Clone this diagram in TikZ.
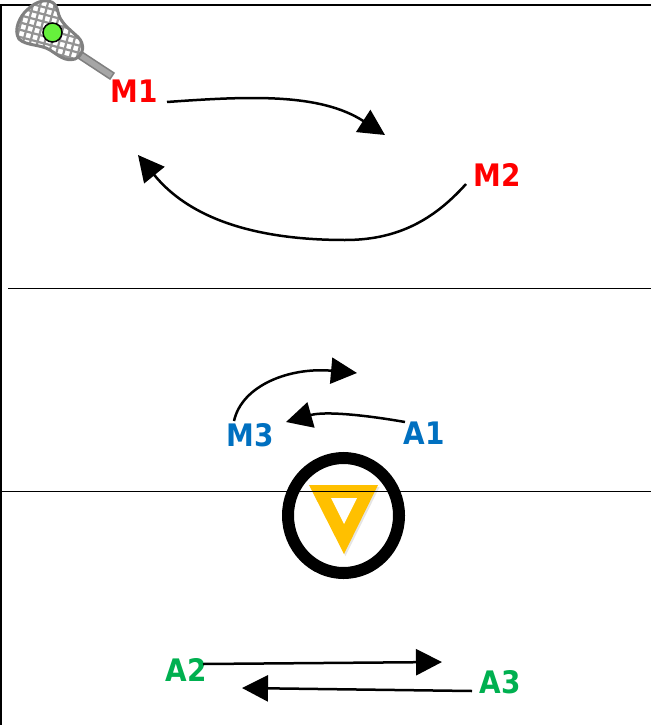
\documentclass[tikz,border=0pt]{standalone}
\usepackage{fontspec}
\setmainfont[FakeStretch=0.9]{DejaVu Sans}
\usetikzlibrary{arrows.meta,shadows}
\definecolor{mred}{HTML}{FF0000}
\definecolor{mblue}{HTML}{0070C0}
\definecolor{mgreen}{HTML}{00B050}
\definecolor{myellow}{HTML}{FFC000}
\definecolor{ballgreen}{HTML}{66F03C}
\definecolor{stickgray}{HTML}{A6A6A6}
\tikzset{
	player/.style={inner sep=0pt,font=\fontsize{31}{31}\selectfont\bfseries},
	run/.style={line width=2.5pt,-{Triangle[length=26pt,width=26pt]}},
	field/.style={line width=1pt},
	edge/.style={line width=2pt}
}
\begin{document}
\begin{tikzpicture}[x=1pt,y=-1pt]
\useasboundingbox (0,0) rectangle (651,725);
\fill[white] (0,0) rectangle (651,725);
% field
\draw[edge] (651,5) -- (1,5) -- (1,725);
\draw[field] (8,288) -- (651,288);
% goal
\path[fill=myellow,drop shadow={shadow xshift=1.5pt,shadow yshift=-2pt,opacity=.2}]
	(309,485) -- (378,485) -- (344,554) -- cycle;
\fill[white] (331,498) -- (357,498) -- (344,524) -- cycle;
\draw[field] (0,491) -- (651,491);
\draw[line width=12pt] (343.5,515.5) circle[x radius=55.5pt,y radius=57.5pt];
% stick
\draw[fill=stickgray,draw=gray,line width=1.5pt] (79,50) -- (114,73) -- (110,79) -- (75,56) -- cycle;
\begin{scope}
	\clip (43,1) .. controls (50,0) and (56,2) .. (58,12) .. controls (60,22) and (68,28) .. (78,37)
		.. controls (85,44) and (84,55) .. (75,59) .. controls (65,62) and (58,55) .. (50,50)
		.. controls (40,44) and (26,46) .. (19,39) .. controls (13,30) and (20,16) .. (27,10)
		.. controls (32,5) and (37,2) .. (43,1) -- cycle;
	\fill[white] (0,0) rectangle (100,70);
	\foreach \i in {-8,...,8}
		\draw[gray!85,line width=2.2pt,rotate around={-15:(48,30)}]
			(48+\i*7,-15) -- (48+\i*7,75) (-10,30+\i*7) -- (105,30+\i*7);
\end{scope}
\draw[gray,line width=3pt] (43,1) .. controls (50,0) and (56,2) .. (58,12) .. controls (60,22) and (68,28) .. (78,37)
	.. controls (85,44) and (84,55) .. (75,59) .. controls (65,62) and (58,55) .. (50,50)
	.. controls (40,44) and (26,46) .. (19,39) .. controls (13,30) and (20,16) .. (27,10)
	.. controls (32,5) and (37,2) .. (43,1) -- cycle;
\draw[fill=ballgreen,line width=1.5pt] (52.5,32.5) circle[radius=9.5pt];
% players
\path
	(134,91) node [player,text=mred] (M1) {M1}
	(497,175) node [player,text=mred] (M2) {M2}
	(250,435) node [player,text=mblue] (M3) {M3}
	(424,433) node [player,text=mblue] (A1) {A1}
	(186,670) node [player,text=mgreen] (A2) {A2}
	(500,682) node [player,text=mgreen] (A3) {A3};
\coordinate (endM1) at (385,135);
\coordinate (endM3) at (357,373);
\coordinate (endA2) at (442,662);
\coordinate (endA3) at (242,688);
% runs
\draw[run] ([shift={(33,11)}]M1.center) .. controls (250,96) and (320,93) .. (endM1);
\draw[run] ([shift={(-31,9)}]M2.center) .. controls (432,222) and (395,240) .. (345,240)
	.. controls (270,240) and (195,225) .. ([shift={(4,64)}]M1.center);
\draw[run] ([shift={(-16,-14)}]M3.center) .. controls (242,385) and (290,367) .. (endM3);
\draw[run] ([shift={(-19,-11)}]A1.center) .. controls (365,415) and (325,411) .. ([shift={(36,-13)}]M3.center);
\draw[run] ([shift={(17,-6)}]A2.center) -- (endA2);
\draw[run] ([shift={(-28,9)}]A3.center) -- (endA3);
\end{tikzpicture}
\end{document}
